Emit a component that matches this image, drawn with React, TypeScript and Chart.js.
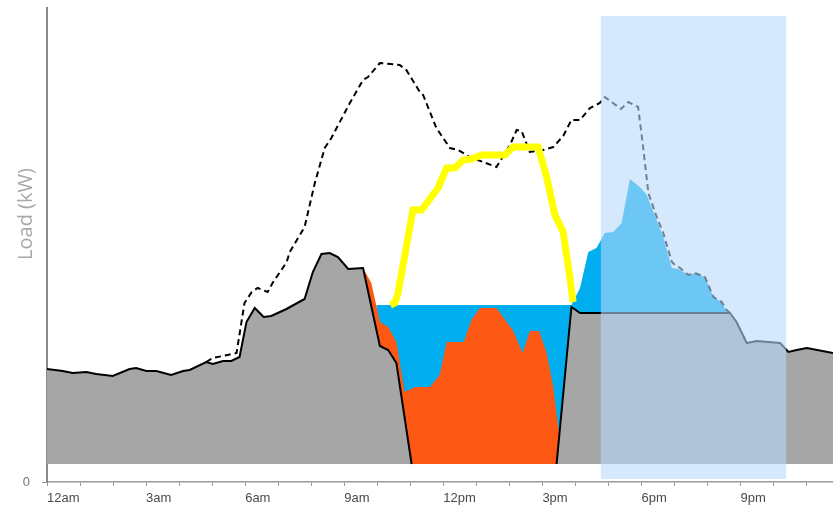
import React, { useEffect, useRef } from "react";
import { Chart, registerables } from "chart.js";

Chart.register(...registerables);

// x values are hours after midnight, y values are load (kW)
const grayHours = [0, 0.48, 0.78, 1.19, 1.49, 1.99, 2.5, 2.7, 3.01, 3.31, 3.76, 4.12, 4.32, 4.82, 5.02, 5.33, 5.58, 5.83, 6.04, 6.29, 6.56, 6.79, 7.25, 7.8, 8.05, 8.31, 8.56, 8.81, 9.12, 9.57, 10.08, 10.33, 10.58, 11.04, 13.2, 15.43, 15.88, 16.14, 20.68, 20.88, 21.19, 21.49, 22.2, 22.45, 22.7, 23.01, 23.8];
const grayLoad = [113, 111, 109, 110, 108, 106, 113, 114, 111, 111, 107, 111, 112, 120, 118, 121, 121, 125, 160, 174, 165, 166, 173, 183, 210, 228, 229, 225, 213, 214, 136, 132, 119, 18, null, 18, 175, 169, 169, 160, 139, 141, 139, 130, 132, 134, 129];

const baselineHours = [4.82, 5.02, 5.47, 5.74, 5.98, 6.2, 6.38, 6.68, 6.83, 7.26, 7.35, 7.8, 8.11, 8.41, 8.61, 9.17, 9.57, 9.72, 10.08, 10.68, 10.88, 11.29, 11.39, 11.79, 12.2, 12.45, 12.8, 13.61, 14.02, 14.22, 14.37, 14.62, 15.02, 15.33, 15.63, 15.88, 16.14, 16.44, 16.74, 16.89, 17.38, 17.6, 17.9, 18.05, 18.21, 18.46, 18.66, 18.92, 19.02, 19.17, 19.42, 19.62, 19.92, 20.18, 20.43, 20.58, 20.68];
const baselineLoad = [120, 124, 127, 129, 179, 190, 194, 190, 199, 220, 230, 255, 299, 334, 344, 379, 402, 405, 419, 417, 412, 390, 387, 354, 334, 332, 325, 315, 337, 352, 351, 330, 332, 335, 346, 362, 362, 374, 379, 385, 373, 380, 375, 335, 289, 265, 249, 220, 217, 214, 207, 209, 205, 185, 180, 172, 169];

const solarHours = [10.4, 10.53, 10.63, 11.08, 11.34, 11.84, 12.1, 12.35, 12.6, 12.85, 13.16, 13.86, 14.12, 14.87, 15.13, 15.38, 15.63, 15.83, 15.93];
const solarLoad = [177, 179, 189, 272, 272, 294, 314, 314, 322, 323, 327, 327, 335, 335, 305, 267, 250, 205, 180];

const storageHours = [9.97, 15.88, 16.14, 16.39, 16.64, 16.89, 17.15, 17.4, 17.65, 17.95, 18.16, 18.46, 18.66, 18.92, 19.12, 19.42, 19.62, 19.92, 20.18, 20.43, 20.58, 20.68];
const storageLoad = [177, 177, 194, 230, 234, 249, 250, 259, 303, 295, 287, 262, 245, 214, 213, 207, 209, 205, 185, 180, 170, 169];

const shiftHours = [9.57, 9.82, 10.08, 10.33, 10.58, 10.83, 11.14, 11.59, 11.89, 12.1, 12.62, 12.85, 13.11, 13.61, 14.12, 14.4, 14.62, 14.9, 15.13, 15.33, 15.48, 15.53];
const shiftLoad = [214, 199, 160, 155, 140, 90, 95, 95, 107, 140, 140, 162, 174, 174, 151, 129, 151, 151, 129, 95, 55, 42];

const tickHours = [0, 3, 6, 9, 12, 15, 18, 21];
const tickLabels = ["12am", "3am", "6am", "9am", "12pm", "3pm", "6pm", "9pm"];

const peakWindow = [16.77, 22.38];
const peakWindowLoad = [3, 466];
const fillBase = 18;
const yMax = 474;
const xMax = 23.8;

const toPoints = (xs: number[], ys: (number | null)[]) => xs.map((x, i) => ({ x, y: ys[i] }));

const overlayPlugin = {
  id: "peakOverlay",
  afterDatasetsDraw(chart: any) {
    const { ctx, scales } = chart;
    const x1 = scales.x.getPixelForValue(peakWindow[0]);
    const x2 = scales.x.getPixelForValue(peakWindow[1]);
    const y1 = scales.y.getPixelForValue(peakWindowLoad[1]);
    const y2 = scales.y.getPixelForValue(peakWindowLoad[0]);
    ctx.save();
    ctx.fillStyle = "rgba(185,216,250,0.59)";
    ctx.fillRect(x1, y1, x2 - x1, y2 - y1);
    ctx.restore();
  },
};

const titlePlugin = {
  id: "yTitle",
  afterDraw(chart: any) {
    const { ctx, chartArea } = chart;
    ctx.save();
    ctx.translate(chartArea.left - 21, chartArea.top + 206);
    ctx.rotate(-Math.PI / 2);
    ctx.font = "20px 'Open Sans'";
    ctx.fillStyle = "#a8a8a8";
    ctx.textAlign = "center";
    ctx.textBaseline = "middle";
    ctx.fillText("Load (kW)", 0, 0);
    ctx.restore();
  },
};

export default function App() {
  const ref = useRef<HTMLCanvasElement | null>(null);
  useEffect(() => {
    document.body.style.margin = "0";
    const canvas = ref.current;
    if (!canvas) return;
    const chart = new Chart(canvas, {
      type: "line",
      data: {
        datasets: [
          {
            label: "Solar",
            data: toPoints(solarHours, solarLoad),
            borderColor: "#ffff00",
            borderWidth: 7,
            fill: false,
            order: 1,
          },
          {
            label: "Baseline",
            data: toPoints(baselineHours, baselineLoad),
            borderColor: "#000000",
            borderWidth: 2,
            borderDash: [6, 4],
            fill: false,
            order: 2,
          },
          {
            label: "Net load",
            data: toPoints(grayHours, grayLoad),
            borderColor: "#000000",
            borderWidth: 2,
            backgroundColor: "#a6a6a6",
            fill: { value: fillBase },
            spanGaps: false,
            order: 3,
          },
          {
            label: "Load shift",
            data: toPoints(shiftHours, shiftLoad),
            borderWidth: 0,
            borderColor: "rgba(0,0,0,0)",
            backgroundColor: "#fc5814",
            fill: { value: fillBase },
            order: 4,
          },
          {
            label: "Storage",
            data: toPoints(storageHours, storageLoad),
            borderWidth: 0,
            borderColor: "rgba(0,0,0,0)",
            backgroundColor: "#00aeef",
            fill: { value: fillBase },
            order: 5,
          },
        ],
      },
      options: {
        animation: false,
        responsive: false,
        devicePixelRatio: 1,
        layout: { padding: { top: 8, left: 0, right: 0, bottom: 0 } },
        elements: { point: { radius: 0 }, line: { tension: 0 } },
        plugins: { legend: { display: false }, tooltip: { enabled: false } },
        scales: {
          x: {
            type: "linear",
            min: 0,
            max: xMax,
            afterFit: (s: any) => {
              s.height = 33;
              s.paddingLeft = 0;
              s.paddingRight = 0;
            },
            afterBuildTicks: (s: any) => {
              const t = [];
              for (let h = 0; h <= 23; h++) t.push({ value: h });
              s.ticks = t;
            },
            grid: { drawOnChartArea: false, drawTicks: true, tickLength: 4, color: "#9a9a9a", lineWidth: 1 },
            border: { display: true, color: "#9a9a9a", width: 1.5 },
            ticks: {
              autoSkip: false,
              maxRotation: 0,
              minRotation: 0,
              align: "start",
              padding: 5,
              color: "#4a4a4a",
              font: { family: "'Liberation Sans'", size: 13 },
              callback: (v: any) => {
                const i = tickHours.indexOf(Number(v));
                return i >= 0 ? tickLabels[i] : "";
              },
            },
          },
          y: {
            type: "linear",
            min: 0,
            max: yMax,
            afterFit: (s: any) => {
              s.width = 47;
              s.paddingTop = 0;
              s.paddingBottom = 0;
            },
            afterBuildTicks: (s: any) => {
              s.ticks = [{ value: 0 }];
            },
            grid: { drawOnChartArea: false, drawTicks: true, tickLength: 5, color: "#9a9a9a" },
            border: { display: true, color: "#8a8a8a", width: 2 },
            ticks: {
              padding: 12,
              color: "#777",
              font: { family: "'Liberation Sans'", size: 13 },
              callback: () => "0",
            },
          },
        },
      },
      plugins: [overlayPlugin, titlePlugin],
    });
    return () => chart.destroy();
  }, []);
  return <canvas ref={ref} width={833} height={515} style={{ display: "block" }} />;
}
